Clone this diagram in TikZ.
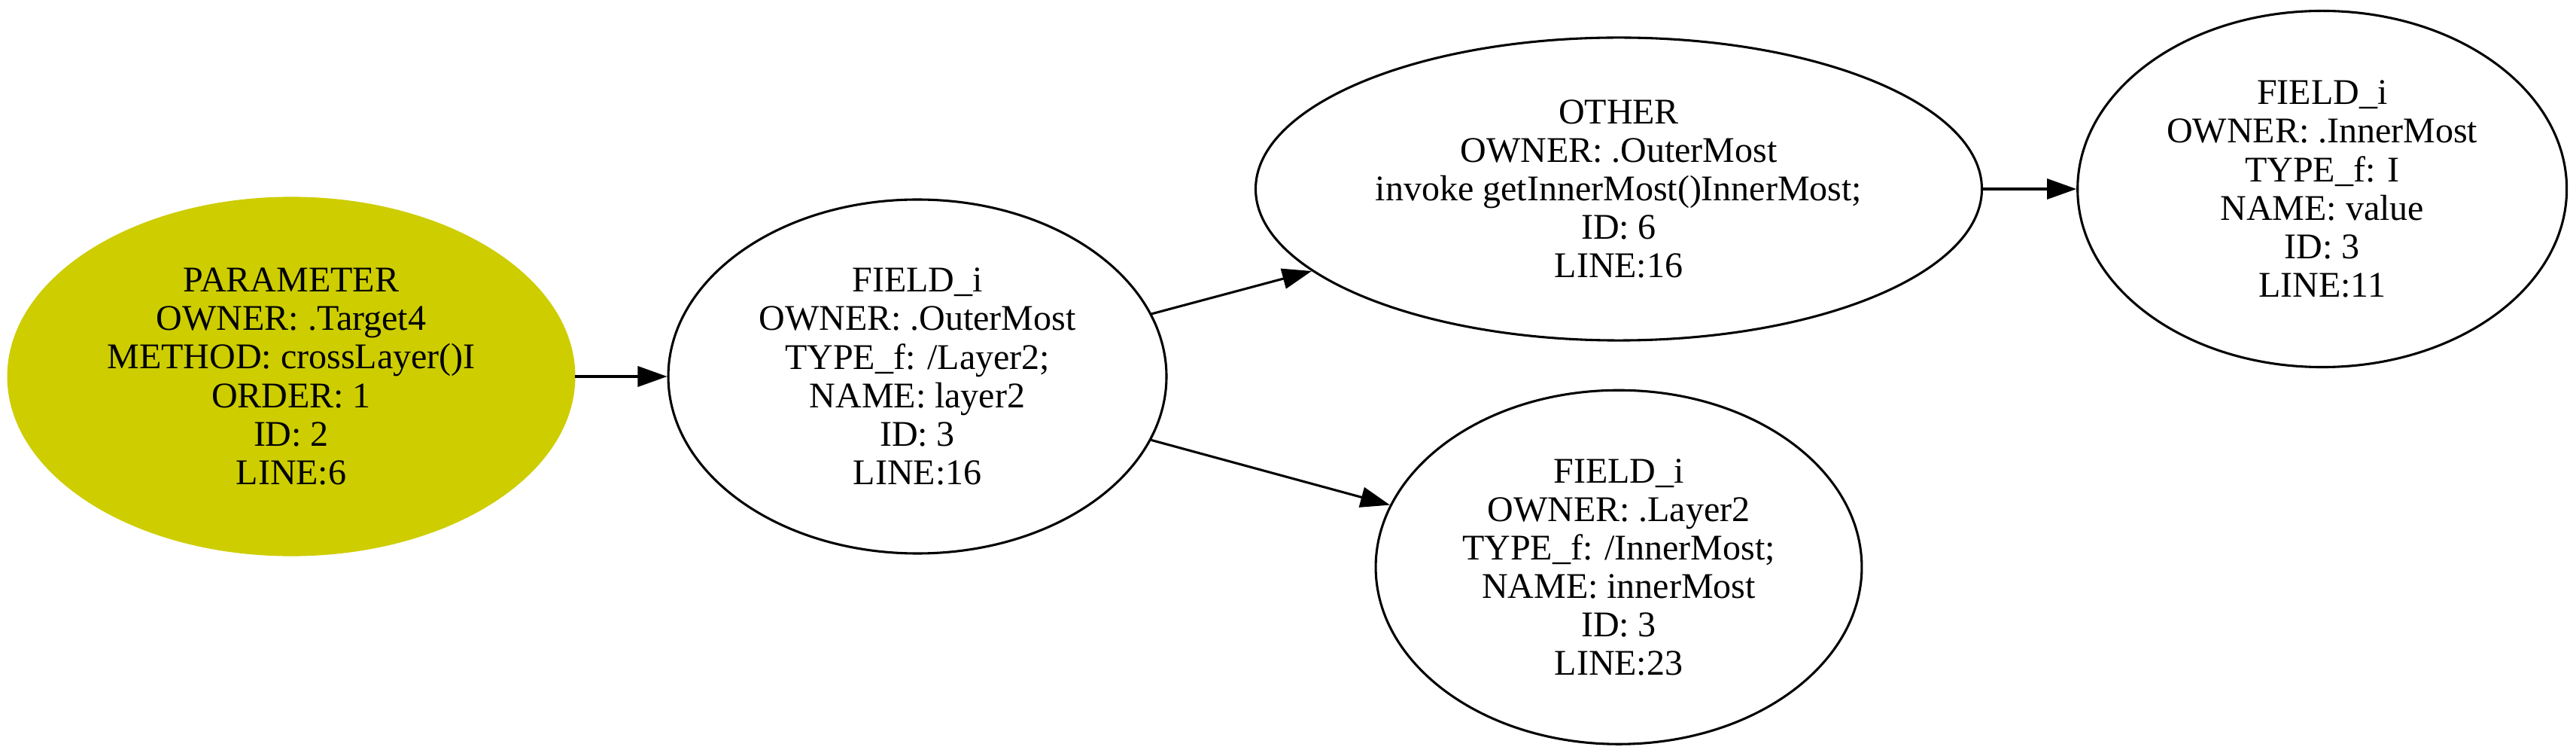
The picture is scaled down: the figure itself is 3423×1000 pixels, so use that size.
\documentclass[tikz,border=0pt]{standalone}
\usepackage{fontspec}
\setmainfont{Liberation Serif}
\usetikzlibrary{arrows.meta,positioning,shapes.geometric}
\definecolor{paramyellow}{RGB}{205,205,0}

\begin{document}
\begin{tikzpicture}[
x=0.2917pt, y=-0.2917pt,
node distance=35.6pt,
vert/.style={ellipse, draw, line width=0.9pt, inner sep=0pt, align=center, font=\fontsize{14}{14.9}\selectfont},
param/.style={vert, draw=paramyellow, fill=paramyellow},
arrow/.style={-{Triangle[length=11.4pt, width=7.9pt]}, line width=0.9pt}
]
\useasboundingbox (0,0) rectangle (3423,1000);

\node[param, minimum width=219.3pt, minimum height=138.3pt] (param) at (387,500) {PARAMETER\\OWNER: .Target4\\METHOD: crossLayer()I\\ORDER: 1\\ID: 2\\LINE:6};
\node[vert, minimum width=193.1pt, minimum height=137.1pt, right=of param] (outer) {FIELD\_i\\OWNER: .OuterMost\\TYPE\_f: /Layer2;\\NAME: layer2\\ID: 3\\LINE:16};
\node[vert, minimum width=281.5pt, minimum height=117.3pt] (other) at (2151,251) {OTHER\\OWNER: .OuterMost\\invoke getInnerMost()InnerMost;\\ID: 6\\LINE:16};
\node[vert, minimum width=189.6pt, minimum height=138pt, right=36.2pt of other] (inner) {FIELD\_i\\OWNER: .InnerMost\\TYPE\_f: I\\NAME: value\\ID: 3\\LINE:11};
\node[vert, minimum width=188.4pt, minimum height=137.1pt, below=18.4pt of other] (layer) {FIELD\_i\\OWNER: .Layer2\\TYPE\_f: /InnerMost;\\NAME: innerMost\\ID: 3\\LINE:23};

\draw[arrow] (param) -- (outer);
\draw[arrow] (outer) -- (other);
\draw[arrow] (outer) -- (layer);
\draw[arrow] (other) -- (inner);
\end{tikzpicture}
\end{document}
